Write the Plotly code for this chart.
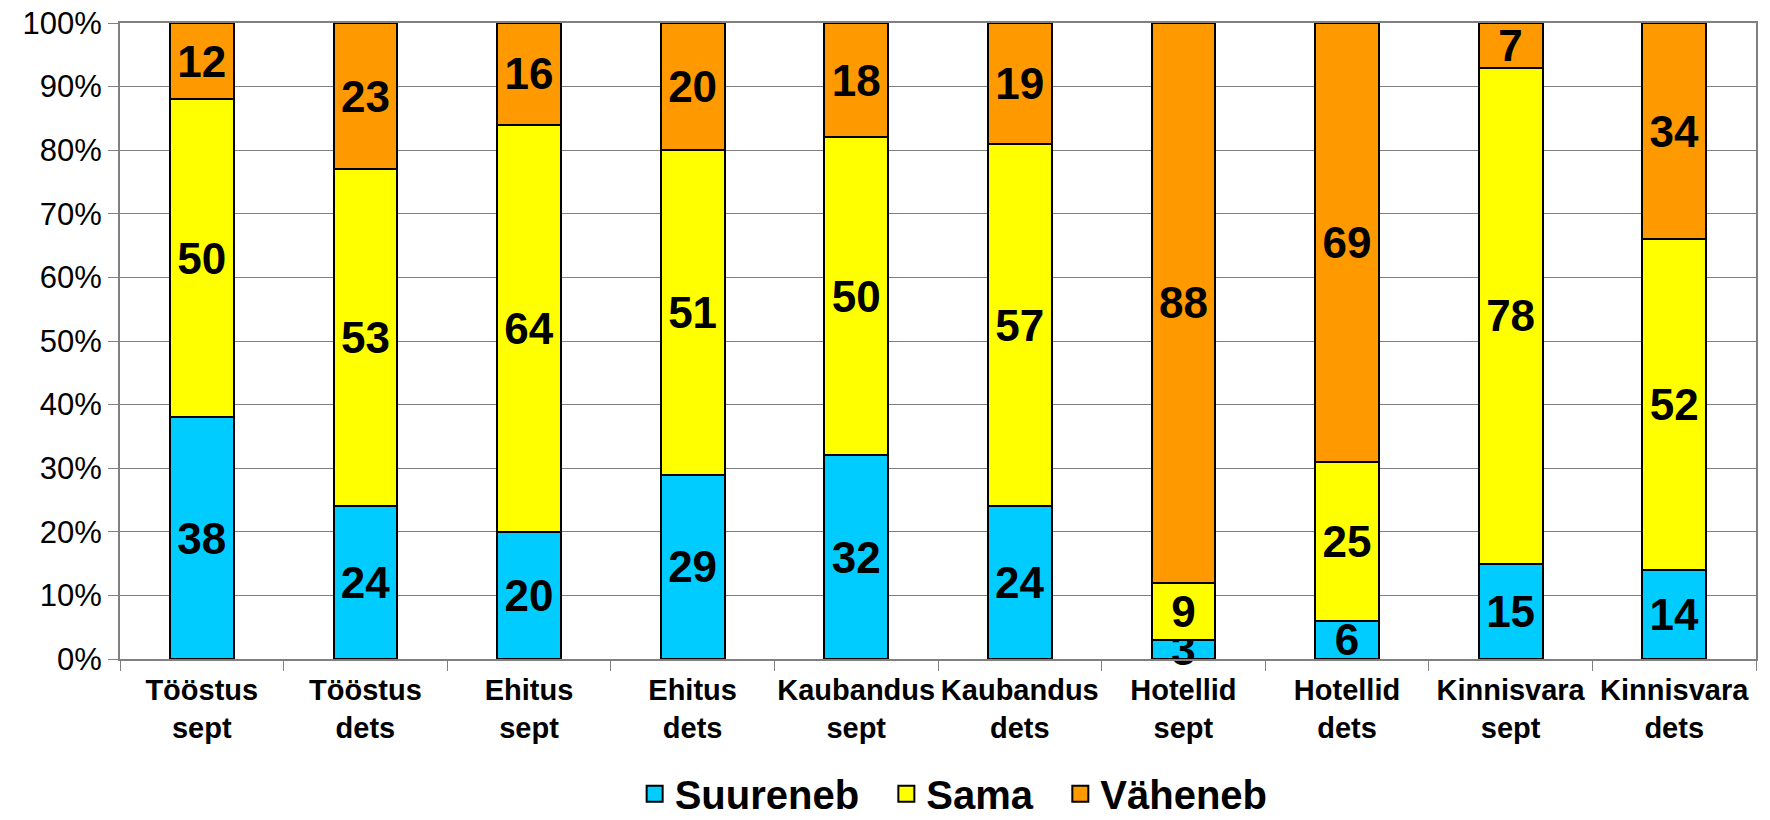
import plotly.graph_objects as go

# categories and shares (%)
categories = ["Tööstus<br>sept", "Tööstus<br>dets", "Ehitus<br>sept", "Ehitus<br>dets",
              "Kaubandus<br>sept", "Kaubandus<br>dets", "Hotellid<br>sept", "Hotellid<br>dets",
              "Kinnisvara<br>sept", "Kinnisvara<br>dets"]
suureneb = [38, 24, 20, 29, 32, 24, 3, 6, 15, 14]
sama = [50, 53, 64, 51, 50, 57, 9, 25, 78, 52]
vaheneb = [12, 23, 16, 20, 18, 19, 88, 69, 7, 34]

series = [
    ("Suureneb", suureneb, "#00CCFF"),
    ("Sama", sama, "#FFFF00"),
    ("Väheneb", vaheneb, "#FF9900"),
]

fig = go.Figure()
for name, vals, color in series:
    fig.add_trace(go.Bar(
        x=categories, y=vals, name=name, showlegend=False, cliponaxis=False,
        marker=dict(color=color, line=dict(color="black", width=2)),
        text=vals, textposition="inside", insidetextanchor="middle", textangle=0,
        textfont=dict(family="Liberation Sans", size=44, color="black", weight="bold"),
    ))
# legend entries with bigger square swatches
for name, vals, color in series:
    fig.add_trace(go.Scatter(
        x=[None], y=[None], mode="markers", name=name + "\u00a0\u00a0",
        marker=dict(symbol="square", size=22, color=color, line=dict(color="black", width=2)),
    ))

fig.update_layout(
    barmode="stack",
    bargap=0.61,
    width=1770, height=820,
    margin=dict(l=120, r=14, t=23, b=161, autoexpand=False),
    plot_bgcolor="white", paper_bgcolor="white",
    font=dict(family="Liberation Sans", color="black"),
    uniformtext=dict(mode="show", minsize=44),
    showlegend=True,
    legend=dict(orientation="h", x=0.545, xanchor="center", xref="container",
                y=0.032, yanchor="middle", yref="container",
                font=dict(size=40, weight="bold"), itemwidth=30, traceorder="normal",
                tracegroupgap=0),
)
fig.update_yaxes(
    range=[0, 100], dtick=10, ticksuffix="%", automargin=False,
    showgrid=True, gridcolor="#808080", gridwidth=1,
    showline=True, linecolor="#808080", linewidth=2, mirror=True,
    ticks="outside", ticklen=10, tickcolor="#808080",
    tickfont=dict(size=31),
)
fig.update_xaxes(
    automargin=False, tickangle=0, ticklabelstandoff=4,
    showline=True, linecolor="#808080", linewidth=2, mirror=True,
    ticks="outside", tickson="boundaries", ticklen=10, tickcolor="#808080",
    tickfont=dict(size=29, weight="bold"),
)

# drop the browser's default body margin so the figure sits at the page corner
fig.write_html("out.html", config={"displayModeBar": False},
               post_script="document.body.style.margin='0';")
